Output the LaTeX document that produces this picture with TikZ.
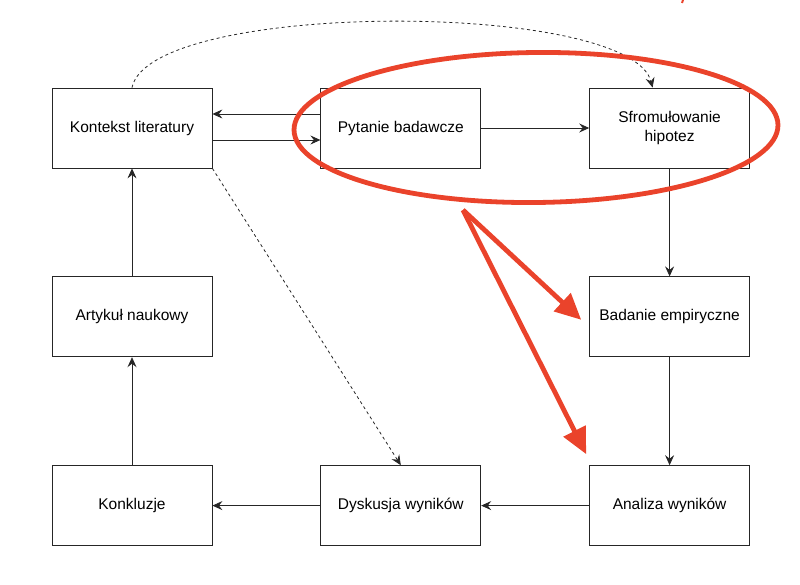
\documentclass[tikz,border=0pt]{standalone}
\usepackage{fontspec}
\setmainfont{Liberation Sans}
\usepackage{xcolor}
\usepackage{tikz}
\usetikzlibrary{positioning, arrows.meta, shapes.geometric}

\definecolor{markred}{HTML}{EA432B}

\begin{document}
\begin{tikzpicture}[
  block/.style={draw=black!85, line width=0.8pt, minimum width=160pt, minimum height=80pt, inner sep=0pt, align=center, font=\fontsize{15.5}{19}\selectfont},
  flow/.style={-{Stealth[length=10pt,width=9pt,inset=3.5pt]}, line width=0.8pt, draw=black!85},
  hint/.style={flow, dash pattern=on 3pt off 3pt},
  redline/.style={draw=markred, line width=4.8pt},
  redarrow/.style={redline, -{Triangle[length=26pt,width=24pt]}},
  node distance=108pt
]
  \useasboundingbox (0,0) rectangle (800pt,-585pt);

  \node[block] (K) at (132pt,-128pt) {Kontekst literatury};
  \node[block, right=of K] (P) {Pytanie badawcze};
  \node[block, right=of P] (S) {Sfromułowanie\\hipotez};
  \node[block, below=of S] (B) {Badanie empiryczne};
  \node[block, below=of B] (A) {Analiza wyników};
  \node[block, left=of A] (D) {Dyskusja wyników};
  \node[block, left=of D] (C) {Konkluzje};
  \node[block, above=of C] (R) {Artykuł naukowy};

  \draw[flow] ([yshift=14pt]P.west) -- ([yshift=14pt]K.east);
  \draw[flow] ([yshift=-12pt]K.east) -- ([yshift=-12pt]P.west);
  \draw[flow] (P) -- (S);
  \draw[flow] (S) -- (B);
  \draw[flow] (B) -- (A);
  \draw[flow] (A) -- (D);
  \draw[flow] (D) -- (C);
  \draw[flow] (C) -- (R);
  \draw[flow] (R) -- (K);

  \draw[hint] (K.north) .. controls (150pt,0pt) and (630pt,0pt) .. ([xshift=-17pt]S.north);
  \draw[hint] (K.south east) -- (D.north);

  % red markup
  \node[ellipse, redline, minimum width=484pt, minimum height=150pt, rotate=0.6] (focus) at (536pt,-127.5pt) {};
  \coordinate (redstart) at (463pt,-210pt);
  \draw[redarrow] (redstart) -- ([xshift=-8pt,yshift=-3pt]B.west);
  \draw[redarrow] (redstart) -- ([xshift=-3pt,yshift=11pt]A.north west);
  \draw[redline, line width=2pt] (683pt,0pt) -- (682pt,-3pt);
\end{tikzpicture}
\end{document}
